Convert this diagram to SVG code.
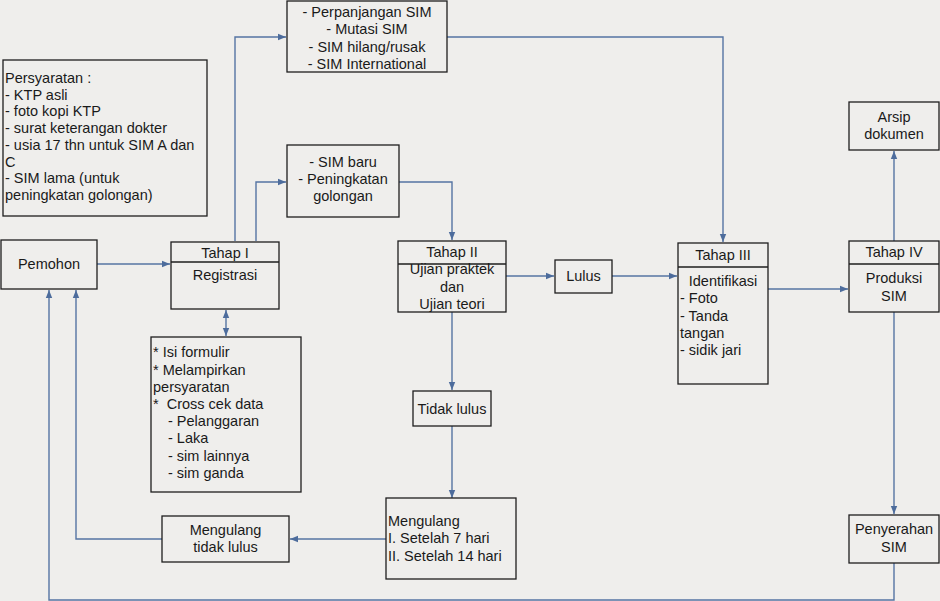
<svg xmlns="http://www.w3.org/2000/svg" width="940" height="601" viewBox="0 0 940 601">
<defs>
<marker id="ah" viewBox="0 0 10 10" refX="10" refY="5" markerWidth="8" markerHeight="8" markerUnits="userSpaceOnUse" orient="auto-start-reverse">
<path d="M0,1 L10,5 L0,9 z" fill="#4d6c9c"/>
</marker>
<style>
.bx{fill:none;stroke:#1e1e1e;stroke-width:1.3}
.t{font-family:"Liberation Sans",Arial,sans-serif;font-size:14.5px;fill:#1a1a1a}
.c{text-anchor:middle}
.ln{fill:none;stroke:#5674a3;stroke-width:1.4}
.ar{marker-end:url(#ah)}
</style>
</defs>
<rect x="0" y="0" width="940" height="601" fill="#efeeec"/>

<g id="connectors">
<path class="ln ar" d="M97,264 H170"/>
<path class="ln ar" d="M235,241 V37 H286"/>
<path class="ln ar" d="M256,241 V182 H286"/>
<path class="ln ar" d="M399,182 H452 V240"/>
<path class="ln ar" d="M447,37 H723 V242"/>
<path class="ln ar" style="marker-start:url(#ah)" d="M226,310 V336"/>
<path class="ln ar" d="M506,276 H554"/>
<path class="ln ar" d="M612,276 H677"/>
<path class="ln ar" d="M768,289 H848"/>
<path class="ln ar" d="M894,241 V151"/>
<path class="ln ar" d="M894,312 V514"/>
<path class="ln ar" d="M452,312 V390"/>
<path class="ln ar" d="M452,426 V498"/>
<path class="ln ar" d="M386,539 H290"/>
<path class="ln ar" d="M162,539 H76 V290"/>
<path class="ln ar" d="M894,563 V600 H49 V290"/>
</g>

<g id="persyaratan">
<rect class="bx" x="3" y="60" width="204" height="156"/>
<text class="t" x="5" y="83">Persyaratan :</text>
<text class="t" x="5" y="99.7">- KTP asli</text>
<text class="t" x="5" y="116.4">- foto kopi KTP</text>
<text class="t" x="5" y="133.1">- surat keterangan dokter</text>
<text class="t" x="5" y="149.8">- usia 17 thn untuk SIM A dan</text>
<text class="t" x="5" y="166.5">C</text>
<text class="t" x="5" y="183.2">- SIM lama (untuk</text>
<text class="t" x="5" y="199.9">peningkatan golongan)</text>
</g>

<g id="perpanjangan">
<rect class="bx" x="287" y="1" width="160" height="71"/>
<text class="t c" x="367" y="17">- Perpanjangan SIM</text>
<text class="t c" x="367" y="34.3">- Mutasi SIM</text>
<text class="t c" x="367" y="51.6">- SIM hilang/rusak</text>
<text class="t c" x="367" y="68.9">- SIM International</text>
</g>

<g id="simbaru">
<rect class="bx" x="287" y="145" width="112" height="72"/>
<text class="t c" x="343" y="166.5">- SIM baru</text>
<text class="t c" x="343" y="183.8">- Peningkatan</text>
<text class="t c" x="343" y="201">golongan</text>
</g>

<g id="pemohon">
<rect class="bx" x="1" y="240" width="96" height="49"/>
<text class="t c" x="49" y="269">Pemohon</text>
</g>

<g id="tahap1">
<rect class="bx" x="171" y="242" width="108" height="67"/>
<line class="bx" x1="171" y1="262" x2="279" y2="262"/>
<text class="t c" x="225" y="258">Tahap I</text>
<text class="t c" x="225" y="279.5">Registrasi</text>
</g>

<g id="formulir">
<rect class="bx" x="151" y="337" width="150" height="155"/>
<text class="t" x="153" y="357.3">* Isi formulir</text>
<text class="t" x="153" y="374.5">* Melampirkan</text>
<text class="t" x="153" y="391.7">persyaratan</text>
<text class="t" x="153" y="408.9" xml:space="preserve">*  Cross cek data</text>
<text class="t" x="168" y="426.1">- Pelanggaran</text>
<text class="t" x="168" y="443.3">- Laka</text>
<text class="t" x="168" y="460.5">- sim lainnya</text>
<text class="t" x="168" y="477.7">- sim ganda</text>
</g>

<g id="tahap2">
<text class="t c" x="452" y="257.3">Tahap II</text>
<text class="t c" x="452" y="274.4">Ujian praktek</text>
<text class="t c" x="452" y="291.7">dan</text>
<text class="t c" x="452" y="309">Ujian teori</text>
<rect class="bx" x="398" y="241" width="108" height="71"/>
<line class="bx" x1="398" y1="264" x2="506" y2="264"/>
</g>

<g id="lulus">
<rect class="bx" x="555" y="260" width="57" height="33"/>
<text class="t c" x="583.5" y="281">Lulus</text>
</g>

<g id="tidaklulus">
<rect class="bx" x="413" y="391" width="78" height="35"/>
<text class="t c" x="452" y="414">Tidak lulus</text>
</g>

<g id="mengulang">
<rect class="bx" x="386" y="498" width="130" height="81"/>
<text class="t" x="388" y="526">Mengulang</text>
<text class="t" x="388" y="543.3">I. Setelah 7 hari</text>
<text class="t" x="388" y="560.6">II. Setelah 14 hari</text>
</g>

<g id="mengulangtidak">
<rect class="bx" x="162" y="516" width="127" height="46"/>
<text class="t c" x="225.5" y="535">Mengulang</text>
<text class="t c" x="225.5" y="552">tidak lulus</text>
</g>

<g id="tahap3">
<rect class="bx" x="678" y="243" width="90" height="141"/>
<line class="bx" x1="678" y1="267" x2="768" y2="267"/>
<text class="t c" x="723" y="260">Tahap III</text>
<text class="t c" x="723" y="286">Identifikasi</text>
<text class="t" x="680" y="303.3">- Foto</text>
<text class="t" x="680" y="320.6">- Tanda</text>
<text class="t" x="680" y="337.9">tangan</text>
<text class="t" x="680" y="355.2">- sidik jari</text>
</g>

<g id="tahap4">
<rect class="bx" x="849" y="241" width="90" height="71"/>
<line class="bx" x1="849" y1="264" x2="939" y2="264"/>
<text class="t c" x="894" y="257.3">Tahap IV</text>
<text class="t c" x="894" y="283.3">Produksi</text>
<text class="t c" x="894" y="301">SIM</text>
</g>

<g id="arsip">
<rect class="bx" x="849" y="102" width="90" height="48"/>
<text class="t c" x="894" y="122">Arsip</text>
<text class="t c" x="894" y="139.3">dokumen</text>
</g>

<g id="penyerahan">
<rect class="bx" x="849" y="515" width="90" height="48"/>
<text class="t c" x="894" y="534">Penyerahan</text>
<text class="t c" x="894" y="551.5">SIM</text>
</g>
</svg>
